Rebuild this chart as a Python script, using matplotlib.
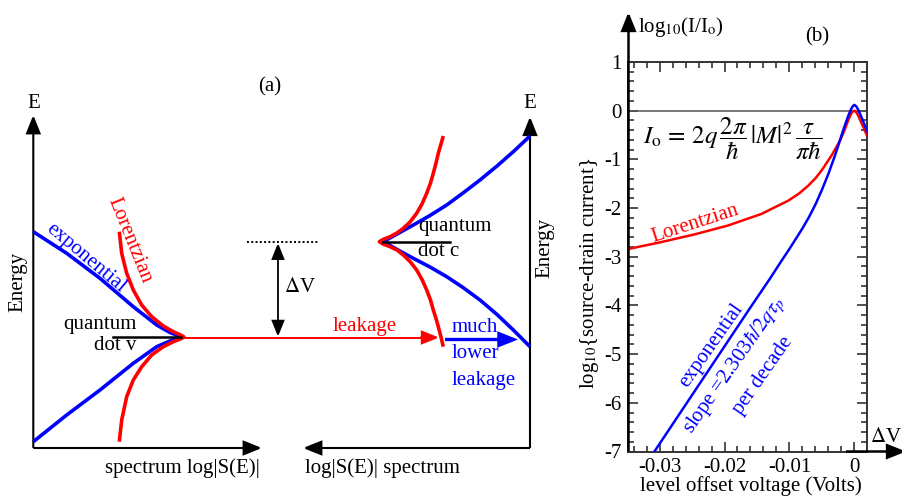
import matplotlib
matplotlib.use("Agg")
import matplotlib.pyplot as plt
from matplotlib.patches import FancyArrowPatch
from matplotlib.ticker import MultipleLocator

plt.rcParams["font.family"] = ["Liberation Serif", "DejaVu Serif"]
plt.rcParams["mathtext.fontset"] = "stix"
plt.rcParams["axes.unicode_minus"] = False

BLUE = "#0000ff"
RED = "#ff0000"
W, H = 903, 496

# ---------------- panel (b): current vs level offset ----------------
lor_v = [-0.0348, -0.0298, -0.0246, -0.0195, -0.0143, -0.0125, -0.0102, -0.0085,
         -0.0071, -0.006, -0.00505, -0.0035, -0.0022, -0.0015, -0.001, -0.0006,
         -0.0003, 0.0, 0.0003, 0.0006, 0.001, 0.0015, 0.00196]
lor_y = [-2.84, -2.70, -2.54, -2.36, -2.12, -2.00, -1.85, -1.70,
         -1.54, -1.39, -1.23, -0.92, -0.615, -0.40, -0.22, -0.09,
         -0.025, 0.0, -0.03, -0.10, -0.22, -0.37, -0.51]

exp_v = [-0.0308, -0.028, -0.025, -0.022, -0.019, -0.016, -0.013, -0.0112,
         -0.010, -0.009, -0.008, -0.007, -0.006, -0.005, -0.004, -0.003,
         -0.0025, -0.002, -0.0015, -0.001, -0.0006, -0.0003, 0.0, 0.0003,
         0.0006, 0.001, 0.0015, 0.00196]
exp_y = [-7.0, -6.44, -5.84, -5.24, -4.64, -4.04, -3.45, -3.08,
         -2.84, -2.63, -2.42, -2.19, -1.93, -1.63, -1.30, -0.93,
         -0.73, -0.52, -0.32, -0.13, 0.0, 0.08, 0.12, 0.09,
         0.02, -0.10, -0.26, -0.42]

xticks_b = [-0.03, -0.02, -0.01, 0.0]
xtick_labels_b = ["-0.03", "-0.02", "-0.01", "0"]
yticks_b = [-7, -6, -5, -4, -3, -2, -1, 0, 1]
ytick_labels_b = ["-7", "-6", "-5", "-4", "-3", "-2", "-1", "0", "1"]

# ---------------- panel (a): schematic spectra (pixel frame) ----------------
la_blue_up_x = [33.3, 66.7, 100.0, 133.3, 156.7, 170.0, 180.0]
la_blue_up_y = [231.7, 253.3, 278.3, 306.7, 325.0, 332.5, 336.5]
la_blue_dn_x = [33.3, 66.7, 100.0, 133.3, 156.7, 170.0, 180.0]
la_blue_dn_y = [441.7, 415.0, 390.0, 363.3, 346.7, 341.0, 337.5]
la_red_up_x = [119.3, 121.7, 126.7, 133.3, 141.7, 151.7, 163.3, 173.3, 180.5, 184.0]
la_red_up_y = [231.7, 253.3, 273.3, 290.0, 305.0, 316.7, 326.0, 331.7, 335.0, 337.0]
la_red_dn_x = [184.0, 180.5, 173.3, 163.3, 151.7, 141.7, 133.3, 126.7, 121.7, 119.3]
la_red_dn_y = [337.0, 339.0, 341.7, 346.7, 355.0, 366.7, 380.0, 396.7, 420.0, 441.7]

rc_blue_up_x = [383.3, 398.0, 413.3, 430.0, 446.7, 463.0, 480.0, 497.0, 513.3, 530.0]
rc_blue_up_y = [241.7, 233.5, 225.0, 215.5, 205.0, 193.0, 180.0, 166.0, 151.7, 136.0]
rc_blue_dn_x = [383.3, 398.0, 413.3, 430.0, 446.7, 463.0, 480.0, 497.0, 513.3, 530.0]
rc_blue_dn_y = [241.7, 250.0, 258.3, 267.0, 276.7, 287.5, 300.0, 314.5, 330.0, 346.7]
rc_red_up_x = [379.3, 383.0, 390.0, 397.0, 403.3, 410.0, 416.7, 422.0, 426.7, 430.5,
               433.3, 436.0, 438.3, 441.0, 443.3]
rc_red_up_y = [241.7, 239.5, 236.7, 233.0, 228.3, 222.0, 213.3, 204.0, 193.3, 183.0,
               173.3, 163.0, 153.3, 144.0, 136.0]
rc_red_dn_x = [379.3, 383.0, 390.0, 397.0, 403.3, 410.0, 416.7, 422.0, 426.7, 430.5,
               433.3, 436.0, 438.3, 441.0, 443.3]
rc_red_dn_y = [241.7, 244.0, 246.7, 250.0, 255.0, 261.5, 270.0, 279.5, 290.0, 300.0,
               310.0, 318.5, 326.7, 337.0, 346.7]

fig = plt.figure(figsize=(W / 100, H / 100), dpi=100)

# ----- panel (b) axes -----
bx0, bx1, by0, by1 = 628.5, 867.0, 62.0, 451.5
axb = fig.add_axes([bx0 / W, 1 - by1 / H, (bx1 - bx0) / W, (by1 - by0) / H])
axb.plot(lor_v, lor_y, color=RED, lw=1.8, solid_joinstyle="round", zorder=3)
axb.plot(exp_v, exp_y, color=BLUE, lw=1.8, solid_joinstyle="round", zorder=3)
axb.axhline(0, color="#555555", lw=1.1, zorder=2)
axb.set_xlim(-0.0348, 0.00196)
axb.set_ylim(-7, 1)
axb.set_xticks(xticks_b)
axb.set_xticklabels(xtick_labels_b)
axb.set_yticks(yticks_b)
axb.set_yticklabels(ytick_labels_b)
axb.xaxis.set_minor_locator(MultipleLocator(0.002))
axb.yaxis.set_minor_locator(MultipleLocator(0.2))
axb.tick_params(which="both", direction="in", top=True, right=True,
                color="#333333", width=1.2, labelsize=15, pad=5)
axb.tick_params(which="major", length=7)
axb.tick_params(which="minor", length=4)
for sp in axb.spines.values():
    sp.set_color("#333333")
    sp.set_linewidth(1.4)

axb.text(-0.0246, -2.32, "Lorentzian", color=RED, fontsize=15,
         rotation=18, ha="center", va="center")
axb.text(-0.0220, -4.82, "exponential", color=BLUE, fontsize=15,
         rotation=55, ha="center", va="center")
axb.text(-0.0184, -5.23, r"slope =2.303$\hbar/2q\tau_p$", color=BLUE, fontsize=15,
         rotation=55, ha="center", va="center")
axb.text(-0.0141, -5.44, "per decade", color=BLUE, fontsize=15,
         rotation=55, ha="center", va="center")
axb.text(-0.0326, -0.57,
         r"$I_{\mathrm{o}}\,=\,2q\,\dfrac{2\pi}{\hbar}\,|M|^2\,\dfrac{\tau}{\pi\hbar}$",
         fontsize=18, ha="left", va="center")

# ----- overlay in pixel units -----
ov = fig.add_axes([0, 0, 1, 1], zorder=5)
ov.set_xlim(0, W)
ov.set_ylim(H, 0)
ov.axis("off")
ov.patch.set_alpha(0)


def arrow(p0, p1, color="black", lw=1.5, style="-|>,head_length=0.7,head_width=0.28", ms=16):
    ov.add_patch(FancyArrowPatch(p0, p1, arrowstyle=style, mutation_scale=ms,
                                 color=color, lw=lw, shrinkA=0, shrinkB=0,
                                 joinstyle="miter", capstyle="butt"))


# panel (b) outer arrows and labels
arrow((bx0, by1), (bx0, 12), lw=1.8)
arrow((846, by1), (906, by1), lw=1.8)
ov.text(870, 437, r"$\Delta$V", fontsize=15, ha="left", va="center")
ov.text(638, 27, r"log$_{10}$(I/I$_{\mathrm{o}}$)", fontsize=15, ha="left", va="center")
ov.text(817, 37, "(b)", fontsize=15, ha="center", va="center")
ov.text(590, 273, r"log$_{10}${source-drain current}", fontsize=15,
        rotation=90, ha="center", va="center")
ov.text(751, 486, "level offset voltage (Volts)", fontsize=15, ha="center", va="center")

# panel (a) axes
arrow((33.3, 448), (33.3, 115))
arrow((33.3, 448), (262, 448))
arrow((530, 448), (530, 116.7))
arrow((530, 448), (303, 448))
ov.text(33.3, 104, "E", fontsize=15, ha="center", va="center")
ov.text(530, 104, "E", fontsize=15, ha="center", va="center")
ov.text(18, 282, "Energy", fontsize=15, rotation=90, ha="center", va="center")
ov.text(545, 248, "Energy", fontsize=15, rotation=90, ha="center", va="center")
ov.text(182, 468, "spectrum log|S(E)|", fontsize=15, ha="center", va="center")
ov.text(382, 468, "log|S(E)| spectrum", fontsize=15, ha="center", va="center")
ov.text(270, 87, "(a)", fontsize=15, ha="center", va="center")

# panel (a) spectra
cw = 2.6
ov.plot(la_blue_up_x, la_blue_up_y, color=BLUE, lw=cw, solid_capstyle="butt",
        solid_joinstyle="round")
ov.plot(la_blue_dn_x, la_blue_dn_y, color=BLUE, lw=cw, solid_capstyle="butt",
        solid_joinstyle="round")
ov.plot(la_red_up_x + la_red_dn_x, la_red_up_y + la_red_dn_y, color=RED, lw=cw,
        solid_capstyle="butt", solid_joinstyle="round")
ov.plot(rc_blue_up_x, rc_blue_up_y, color=BLUE, lw=cw, solid_capstyle="butt",
        solid_joinstyle="round")
ov.plot(rc_blue_dn_x, rc_blue_dn_y, color=BLUE, lw=cw, solid_capstyle="butt",
        solid_joinstyle="round")
ov.plot(rc_red_up_x[::-1] + rc_red_dn_x, rc_red_up_y[::-1] + rc_red_dn_y, color=RED,
        lw=cw, solid_capstyle="butt", solid_joinstyle="round")

# quantum dot levels
ov.plot([113, 181], [336.7, 336.7], color="black", lw=1.8)
ov.plot([383, 450], [241.7, 241.7], color="black", lw=1.8)
ov.text(137, 325, "quantum", fontsize=15, ha="right", va="center")
ov.text(137, 346, "dot v", fontsize=15, ha="right", va="center")
ov.text(418, 227, "quantum", fontsize=15, ha="left", va="center")
ov.text(418, 251, "dot c", fontsize=15, ha="left", va="center")

# level offset marker
ov.plot([247, 318], [242, 242], color="black", lw=1.4, ls=(0, (1, 1.2)))
arrow((278, 290), (278, 243), lw=1.3, ms=14)
arrow((278, 290), (278, 336.7), lw=1.3, ms=14)
ov.text(300, 288, r"$\Delta$V", fontsize=15, ha="center", va="center")

# leakage arrows
ov.plot([185, 430], [337.5, 337.5], color=RED, lw=1.4)
arrow((420, 337.5), (439, 337.5), color=RED, lw=1.4, ms=15)
ov.text(365, 327, "leakage", color=RED, fontsize=15, ha="center", va="center")
arrow((445, 339.5), (518, 339.5), color=BLUE, lw=2.4, ms=15)
ov.text(452, 327, "much", color=BLUE, fontsize=15, ha="left", va="center")
ov.text(452, 354, "lower", color=BLUE, fontsize=15, ha="left", va="center")
ov.text(452, 380, "leakage", color=BLUE, fontsize=15, ha="left", va="center")

# curve labels
ov.text(86, 258, "exponential", color=BLUE, fontsize=15, rotation=-40,
        ha="center", va="center")
ov.text(130, 240, "Lorentzian", color=RED, fontsize=15, rotation=-68,
        ha="center", va="center")

fig.savefig("out.png", dpi=100)
